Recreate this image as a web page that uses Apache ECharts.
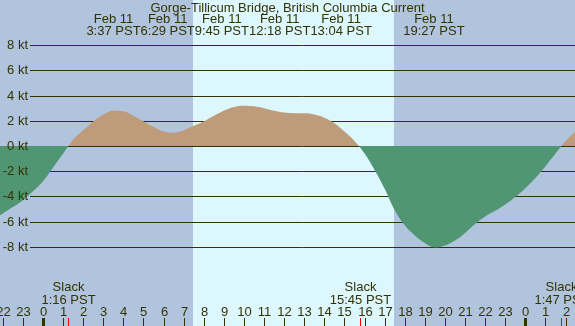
<!DOCTYPE html>
<html>
<head>
<meta charset="utf-8">
<script src="https://cdn.jsdelivr.net/npm/echarts@6/dist/echarts.min.js"></script>
<style>
  html, body { margin: 0; padding: 0; }
  #main { width: 575px; height: 326px; }
</style>
</head>
<body>
<div id="main"></div>
<script>
var title = 'Gorge-Tillicum Bridge, British Columbia Current';

// hours from midnight Feb 11 (PST) and current speed in knots (+ flood, - ebb)
var hours = [-2.15, -2, -1.5, -1, -0.5, 0, 0.5, 1, 1.5, 2, 2.5, 3, 3.5, 4, 4.5, 5, 5.5, 6, 6.5, 7,
  7.5, 8, 8.5, 9, 9.5, 10, 10.5, 11, 11.5, 12, 12.5, 13, 13.5, 14, 14.5, 15, 15.5, 16, 16.5, 17,
  17.5, 18, 18.5, 19, 19.5, 20, 20.5, 21, 21.5, 22, 22.5, 23, 23.5, 24, 24.5, 25, 25.5, 26, 26.5];
var knots = [-5.5, -5.35, -4.85, -4.3, -3.6, -2.8, -1.7, -0.6, 0.5, 1.25, 1.95, 2.5, 2.8, 2.75, 2.4, 1.95, 1.5, 1.15, 1.05, 1.25,
  1.6, 1.95, 2.4, 2.8, 3.1, 3.2, 3.15, 3.0, 2.8, 2.65, 2.6, 2.6, 2.5, 2.25, 1.8, 1.15, 0.4, -0.6, -1.9, -3.4,
  -5.1, -6.3, -7.1, -7.7, -8.05, -7.9, -7.5, -6.9, -6.2, -5.6, -5.15, -4.65, -4.05, -3.35, -2.55, -1.6, -0.6, 0.4, 1.15];

var gridKnots = [-8, -6, -4, -2, 0, 2, 4, 6, 8];
var hourTicks = [-2, -1, 0, 1, 2, 3, 4, 5, 6, 7, 8, 9, 10, 11, 12, 13, 14, 15, 16, 17, 18, 19, 20,
  21, 22, 23, 24, 25, 26];

var eventDates = ['Feb 11', 'Feb 11', 'Feb 11', 'Feb 11', 'Feb 11', 'Feb 11'];
var eventTimes = ['3:37', '6:29', '9:45', '12:18', '13:04', '19:27'];

var slackTimes = ['1:16', '15:45', '1:47'];
var slackDay = [0, 0, 1];

var daylight = ['7:28', '17:28'];

var ink = '#333300';
var font = '"Liberation Sans", Arial, sans-serif';
var nightColor = '#b0c4de';
var dayColor = '#ddf7ff';
var floodColor = '#bd9b7b';
var ebbColor = '#519673';

function toHours(t) {
  var p = t.split(':');
  return +p[0] + p[1] / 60;
}

var measureCtx = document.createElement('canvas').getContext('2d');
measureCtx.font = '13px ' + font;
function textWidth(s) {
  return measureCtx.measureText(s).width;
}

// push overlapping labels apart, keeping each group centred on its anchors
function spread(xs, ws) {
  var groups = xs.map(function (x, i) { return [i]; });
  function place(g) {
    var off = [0];
    for (var k = 1; k < g.length; k++) off.push(off[k - 1] + (ws[g[k - 1]] + ws[g[k]]) / 2);
    var mx = 0, mo = 0;
    g.forEach(function (i, k) { mx += xs[i]; mo += off[k]; });
    var c = (mx - mo) / g.length;
    return off.map(function (o) { return c + o; });
  }
  var merged = true;
  while (merged) {
    merged = false;
    for (var j = 0; j < groups.length - 1; j++) {
      var a = groups[j], b = groups[j + 1];
      var pa = place(a), pb = place(b);
      var aEnd = pa[pa.length - 1] + ws[a[a.length - 1]] / 2;
      var bStart = pb[0] - ws[b[0]] / 2;
      if (aEnd > bStart) {
        groups.splice(j, 2, a.concat(b));
        merged = true;
        break;
      }
    }
  }
  var out = [];
  groups.forEach(function (g) {
    var p = place(g);
    g.forEach(function (i, k) { out[i] = p[k]; });
  });
  return out;
}

var currentData = hours.map(function (h, i) { return [h, knots[i]]; });
var eventHours = eventTimes.map(toHours);
var slackHours = slackTimes.map(function (t, i) { return toHours(t) + 24 * slackDay[i]; });
var knotData = gridKnots.map(function (v) { return [0, v]; });

var chart = echarts.init(document.getElementById('main'));

var option = {
  backgroundColor: nightColor,
  animation: false,
  grid: { left: 0, right: 0, top: 0, bottom: 0 },
  xAxis: {
    type: 'value',
    min: -2.14,
    max: 26.47,
    show: false
  },
  yAxis: {
    type: 'value',
    min: -14.29,
    max: 11.59,
    show: false
  },
  series: [
    {
      // daylight band
      type: 'custom',
      z: 0,
      data: [[toHours(daylight[0]), toHours(daylight[1])]],
      renderItem: function (params, api) {
        var x0 = Math.round(api.coord([api.value(0), 0])[0]);
        var x1 = Math.round(api.coord([api.value(1), 0])[0]);
        var cs = params.coordSys;
        return {
          type: 'rect',
          shape: { x: x0, y: cs.y, width: x1 - x0, height: cs.height },
          style: { fill: dayColor }
        };
      }
    },
    {
      // knot grid lines (under the fill)
      type: 'custom',
      z: 1,
      data: knotData,
      renderItem: function (params, api) {
        var y = Math.round(api.coord([0, api.value(1)])[1]) + 0.5;
        var cs = params.coordSys;
        return {
          type: 'line',
          shape: { x1: 30, y1: y, x2: cs.x + cs.width, y2: y },
          style: { stroke: ink, lineWidth: 1 }
        };
      }
    },
    {
      id: 'current',
      name: 'Current',
      type: 'line',
      z: 2,
      data: currentData,
      smooth: 0.4,
      symbol: 'none',
      lineStyle: { width: 0, opacity: 0 },
      areaStyle: { opacity: 1, color: floodColor }
    },
    {
      // knot labels (over the fill)
      type: 'custom',
      z: 3,
      data: knotData,
      renderItem: function (params, api) {
        var v = api.value(1);
        var y = Math.round(api.coord([0, v])[1]) + 0.5;
        return {
          type: 'text',
          style: {
            text: v + ' kt', x: 28, y: y, align: 'right', verticalAlign: 'middle',
            fill: ink, fontSize: 13, fontFamily: font
          }
        };
      }
    },
    {
      // event labels along the top, plus the title
      type: 'custom',
      z: 3,
      data: eventHours.map(function (h) { return [h, 0]; }),
      renderItem: function (params, api) {
        var xs = eventHours.map(function (h) { return api.coord([h, 0])[0]; });
        var ws = eventTimes.map(function (t, i) {
          return Math.max(textWidth(t + ' PST'), textWidth(eventDates[i]));
        });
        var pos = spread(xs, ws);
        var i = params.dataIndex;
        var children = [{
          type: 'text',
          style: {
            text: eventDates[i] + '\n' + eventTimes[i] + ' PST', x: pos[i], y: 25,
            align: 'center', verticalAlign: 'middle', lineHeight: 12,
            fill: ink, fontSize: 13, fontFamily: font
          }
        }];
        if (i === 0) {
          children.push({
            type: 'text',
            style: {
              text: title, x: params.coordSys.x + params.coordSys.width / 2, y: 8,
              align: 'center', verticalAlign: 'middle', fill: ink, fontSize: 13, fontFamily: font
            }
          });
        }
        return { type: 'group', children: children };
      }
    },
    {
      // hour ticks and labels along the bottom, heavy at midnight
      type: 'custom',
      z: 4,
      data: hourTicks.map(function (h) { return [h, 0]; }),
      renderItem: function (params, api) {
        var h = api.value(0);
        var x = Math.round(api.coord([h, 0])[0]);
        var bottom = params.coordSys.y + params.coordSys.height;
        var midnight = h % 24 === 0;
        return {
          type: 'group',
          children: [
            {
              type: 'rect',
              shape: { x: midnight ? x - 1 : x, y: bottom - 8, width: midnight ? 3 : 1, height: 8 },
              style: { fill: ink }
            },
            {
              type: 'text',
              style: {
                text: String(((h % 24) + 24) % 24), x: x + 0.5, y: 312,
                align: 'center', verticalAlign: 'middle', fill: ink, fontSize: 13, fontFamily: font
              }
            }
          ]
        };
      }
    },
    {
      // slack labels and red slack ticks
      type: 'custom',
      z: 5,
      data: slackHours.map(function (h) { return [h, 0]; }),
      renderItem: function (params, api) {
        var i = params.dataIndex;
        var x = Math.round(api.coord([api.value(0), 0])[0]);
        var bottom = params.coordSys.y + params.coordSys.height;
        return {
          type: 'group',
          children: [
            {
              type: 'rect',
              shape: { x: x, y: bottom - 8, width: 1, height: 8 },
              style: { fill: '#ff0000' }
            },
            {
              type: 'text',
              style: {
                text: 'Slack\n' + slackTimes[i] + ' PST', x: x + 0.5, y: 293.5,
                align: 'center', verticalAlign: 'middle', lineHeight: 13,
                fill: ink, fontSize: 13, fontFamily: font
              }
            }
          ]
        };
      }
    }
  ]
};

chart.setOption(option);

// flood above zero, ebb below: a hard colour stop at the pixel row of 0 kt
var zeroY = chart.convertToPixel({ gridIndex: 0 }, [0, 0])[1];
var h = chart.getHeight();
chart.setOption({
  series: [{
    id: 'current',
    areaStyle: {
      color: new echarts.graphic.LinearGradient(0, 0, 0, h, [
        { offset: 0, color: floodColor },
        { offset: zeroY / h, color: floodColor },
        { offset: zeroY / h, color: ebbColor },
        { offset: 1, color: ebbColor }
      ], true)
    }
  }]
});
</script>
</body>
</html>
